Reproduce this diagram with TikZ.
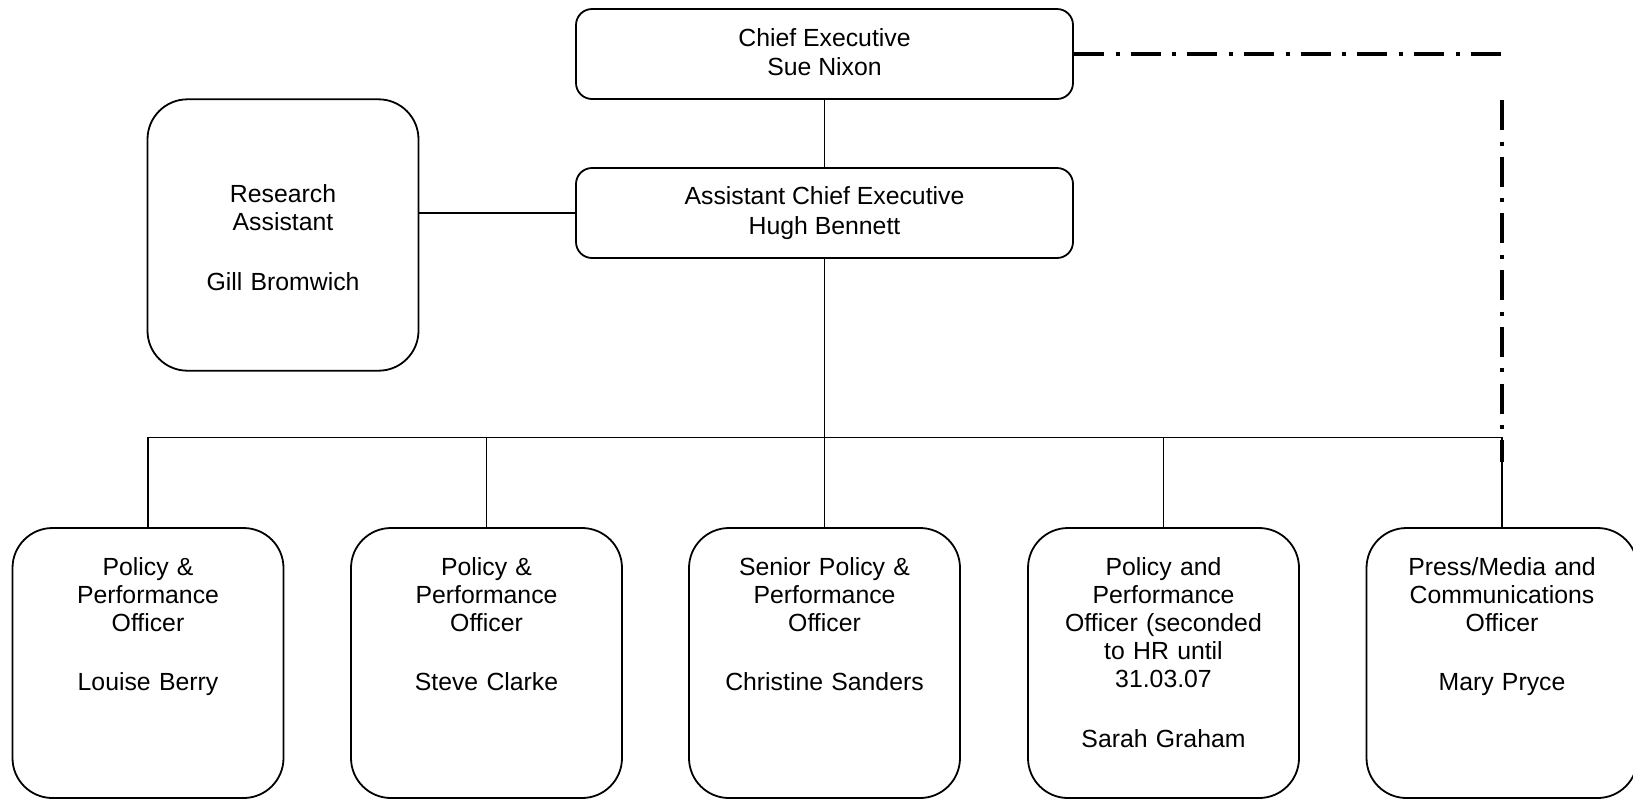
\documentclass[tikz,border=0pt]{standalone}
\usepackage{fontspec}
\setmainfont{Liberation Sans}
\begin{document}
\begin{tikzpicture}[x=0.5pt,y=-0.5pt,
  txtfont/.style={font=\fontsize{12.4pt}{14.1pt}\selectfont},
  headbox/.style={draw, line width=0.9pt, rounded corners=8pt, inner sep=0pt,
    minimum width=248.5pt, minimum height=45pt},
  headtext/.style={inner sep=0pt, align=center, txtfont},
  bigbox/.style={draw, line width=0.9pt, rounded corners=20pt, inner sep=0pt,
    minimum width=135.5pt, minimum height=135pt},
  boxtext/.style={inner sep=0pt, text width=130pt, align=center, anchor=base, txtfont},
  link/.style={line width=0.7pt},
  dotdash/.style={line width=2pt, line cap=butt,
    dash pattern=on 15pt off 5.8pt on 2pt off 5.55pt}
]
\useasboundingbox (0,0) rectangle (1633,799);

% top of the structure
\node[headbox] (ce)  at (824.5,54)  {};
\node[headtext] (cet) at ([yshift=1pt]ce.center) {Chief Executive\\[0.6pt]Sue Nixon};
\node[headbox] (ace) at (824.5,213) {};
\node[headtext] (acet) at (ace.center) {Assistant Chief Executive\\[0.6pt]Hugh Bennett};

% research assistant at the side
\node[bigbox, minimum height=135.7pt] (ra) at (283,235) {};
\node[boxtext] (rat) at ([yshift=-52pt]ra.north) {Research\\Assistant\\[15.6pt]Gill Bromwich};

% officers
\node[bigbox] (b1) at (148,663)    {};
\node[bigbox] (b2) at (486.5,663)  {};
\node[bigbox] (b3) at (824.5,663)  {};
\node[bigbox] (b4) at (1163.5,663) {};
\node[bigbox] (b5) at (1502,663)   {};

\node[boxtext] (t1) at ([yshift=-24pt]b1.north) {Policy \&\\Performance\\Officer\\[15.6pt]Louise Berry};
\node[boxtext] (t2) at ([yshift=-24pt]b2.north) {Policy \&\\Performance\\Officer\\[15.6pt]Steve Clarke};
\node[boxtext] (t3) at ([yshift=-24pt]b3.north) {Senior Policy \&\\Performance\\Officer\\[15.6pt]Christine Sanders};
\node[boxtext] (t4) at ([yshift=-24pt]b4.north) {Policy and\\Performance\\Officer (seconded\\to HR until\\31.03.07\\[15.6pt]Sarah Graham};
\node[boxtext] (t5) at ([yshift=-24pt]b5.north) {Press/Media and\\Communications\\Officer\\[15.6pt]Mary Pryce};

% line management
\coordinate (bus) at (824.5,437.5);
\draw[link] (ce.south) -- (ace.north);
\draw[link] (ra.east |- ace.west) -- (ace.west);
\draw[link] (ace.south) -- (bus);
\draw[link] (b1.north) -- (b1.north |- bus) -- (b5.north |- bus) -- (b5.north);
\foreach \b in {b2,b3,b4} \draw[link] (\b.north) -- (\b.north |- bus);

% dotted reporting line to the press officer
\coordinate (corner) at (b5.north |- ce.east);
\coordinate (vtop) at (1502,100);
\coordinate (vend) at (1502,462);
\draw[dotdash] (ce.east) -- (corner);
\draw[dotdash] (vtop) -- (vend);
\end{tikzpicture}
\end{document}
